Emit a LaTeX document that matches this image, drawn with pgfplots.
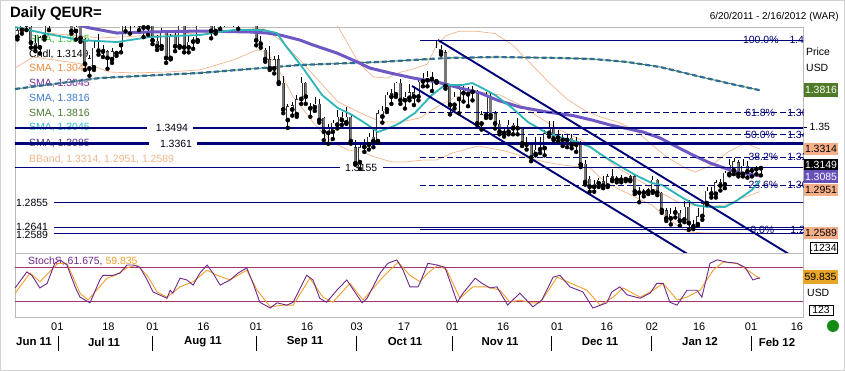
\documentclass[border=0pt]{standalone}
\usepackage{pgfplots}
\pgfplotsset{compat=1.18}
\usepackage{pgfplotstable}
\usepackage{fontspec}
\setmainfont{Liberation Sans}
\newcommand\fs[1]{\fontsize{#1}{#1}\selectfont}
\definecolor{navy}{RGB}{0,0,120}
\definecolor{candlegray}{RGB}{120,120,120}
\definecolor{smacyan}{RGB}{45,180,185}
\definecolor{smapurple}{RGB}{112,88,196}
\definecolor{smablue}{RGB}{45,110,150}
\definecolor{smagreen}{RGB}{60,110,60}
\definecolor{bband}{RGB}{242,182,140}
\definecolor{stk}{RGB}{110,40,140}
\definecolor{std}{RGB}{240,160,40}
\definecolor{stlev}{RGB}{160,50,120}
\definecolor{lgreen}{RGB}{50,200,60}
\definecolor{lorange}{RGB}{232,138,60}
\definecolor{lpurple}{RGB}{122,42,154}
\definecolor{lblue}{RGB}{58,122,200}
\definecolor{lolive}{RGB}{74,122,48}
\definecolor{lcyan}{RGB}{48,184,216}
\definecolor{lviolet}{RGB}{80,56,128}
\definecolor{boxgreen}{RGB}{79,122,40}
\definecolor{boxpeach}{RGB}{245,176,138}
\definecolor{boxpurple}{RGB}{102,80,184}
\definecolor{boxorange}{RGB}{232,166,40}
\definecolor{dotgreen}{RGB}{20,140,20}

\pgfplotstableread{
i O H L C
0 1.4270 1.4350 1.4250 1.4330
1 1.4330 1.4440 1.4300 1.4390
2 1.4390 1.4450 1.4330 1.4360
3 1.4360 1.4380 1.4180 1.4220
4 1.4220 1.4290 1.4150 1.4180
5 1.4180 1.4280 1.4130 1.4270
6 1.4270 1.4390 1.4250 1.4370
7 1.4370 1.4440 1.4330 1.4430
8 1.4430 1.4510 1.4400 1.4500
9 1.4500 1.4530 1.4440 1.4520
10 1.4520 1.4580 1.4500 1.4530
11 1.4530 1.4540 1.4380 1.4390
12 1.4390 1.4420 1.4300 1.4320
13 1.4320 1.4380 1.4250 1.4360
14 1.4360 1.4370 1.4230 1.4260
15 1.4250 1.4260 1.3990 1.4040
16 1.4000 1.4120 1.3940 1.4090
17 1.4010 1.4240 1.3990 1.4180
18 1.4180 1.4300 1.4120 1.4150
19 1.4145 1.4200 1.4100 1.4165
20 1.4150 1.4160 1.4000 1.4090
21 1.4080 1.4180 1.4050 1.4150
22 1.4130 1.4240 1.4110 1.4220
23 1.4200 1.4450 1.4140 1.4410
24 1.4410 1.4440 1.4320 1.4380
25 1.4380 1.4420 1.4300 1.4370
26 1.4370 1.4540 1.4360 1.4500
27 1.4500 1.4530 1.4330 1.4360
28 1.4360 1.4400 1.4270 1.4350
29 1.4350 1.4430 1.4290 1.4390
30 1.4390 1.4450 1.4210 1.4240
31 1.4240 1.4290 1.4160 1.4190
32 1.4190 1.4350 1.4170 1.4310
33 1.4310 1.4330 1.4050 1.4090
34 1.4090 1.4300 1.4080 1.4280
35 1.4280 1.4330 1.4150 1.4190
36 1.4190 1.4400 1.4180 1.4390
37 1.4390 1.4420 1.4140 1.4180
38 1.4180 1.4290 1.4140 1.4230
39 1.4230 1.4270 1.4170 1.4240
40 1.4240 1.4440 1.4230 1.4420
41 1.4420 1.4460 1.4370 1.4400
42 1.4400 1.4480 1.4380 1.4450
43 1.4450 1.4460 1.4260 1.4320
44 1.4320 1.4430 1.4300 1.4390
45 1.4390 1.4440 1.4340 1.4370
46 1.4370 1.4470 1.4360 1.4440
47 1.4440 1.4470 1.4370 1.4400
48 1.4400 1.4460 1.4360 1.4405
49 1.4400 1.4500 1.4340 1.4490
50 1.4490 1.4540 1.4460 1.4500
51 1.4500 1.4520 1.4380 1.4440
52 1.4440 1.4490 1.4370 1.4380
53 1.4370 1.4430 1.4200 1.4240
54 1.4240 1.4280 1.4180 1.4210
55 1.4160 1.4180 1.4060 1.4080
56 1.4080 1.4190 1.3990 1.4000
57 1.4000 1.4110 1.3960 1.4080
58 1.4080 1.4120 1.3870 1.3880
59 1.3880 1.3940 1.3620 1.3650
60 1.3560 1.3700 1.3495 1.3680
61 1.3650 1.3720 1.3600 1.3690
62 1.3610 1.3780 1.3590 1.3740
63 1.3740 1.3930 1.3700 1.3880
64 1.3880 1.3890 1.3700 1.3760
65 1.3660 1.3710 1.3590 1.3670
66 1.3670 1.3760 1.3640 1.3700
67 1.3700 1.3740 1.3540 1.3560
68 1.3580 1.3590 1.3390 1.3460
69 1.3450 1.3530 1.3360 1.3490
70 1.3460 1.3560 1.3400 1.3540
71 1.3520 1.3650 1.3490 1.3590
72 1.3590 1.3630 1.3520 1.3560
73 1.3540 1.3670 1.3530 1.3590
74 1.3590 1.3610 1.3360 1.3380
75 1.3330 1.3390 1.3180 1.3190
76 1.3200 1.3350 1.3145 1.3330
77 1.3330 1.3400 1.3290 1.3350
78 1.3350 1.3450 1.3310 1.3420
79 1.3420 1.3480 1.3330 1.3380
80 1.3380 1.3650 1.3370 1.3620
81 1.3590 1.3680 1.3540 1.3640
82 1.3650 1.3800 1.3630 1.3780
83 1.3790 1.3830 1.3700 1.3760
84 1.3780 1.3890 1.3760 1.3880
85 1.3880 1.3910 1.3700 1.3730
86 1.3730 1.3800 1.3660 1.3760
87 1.3750 1.3870 1.3730 1.3800
88 1.3800 1.3840 1.3690 1.3760
89 1.3760 1.3920 1.3730 1.3890
90 1.3890 1.3960 1.3850 1.3920
91 1.3900 1.3980 1.3850 1.3930
92 1.3930 1.3970 1.3810 1.3910
93 1.3890 1.4245 1.3880 1.4180
94 1.4170 1.4200 1.4120 1.4140
95 1.4140 1.4160 1.3830 1.3850
96 1.3860 1.3870 1.3610 1.3690
97 1.3690 1.3800 1.3660 1.3760
98 1.3740 1.3850 1.3620 1.3820
99 1.3790 1.3850 1.3720 1.3810
100 1.3810 1.3840 1.3680 1.3780
101 1.3830 1.3850 1.3730 1.3800
102 1.3790 1.3820 1.3520 1.3530
103 1.3530 1.3640 1.3480 1.3610
104 1.3600 1.3800 1.3580 1.3760
105 1.3760 1.3790 1.3580 1.3600
106 1.3620 1.3640 1.3490 1.3530
107 1.3530 1.3560 1.3440 1.3460
108 1.3450 1.3500 1.3420 1.3470
109 1.3460 1.3560 1.3440 1.3520
110 1.3520 1.3540 1.3440 1.3490
111 1.3490 1.3580 1.3440 1.3510
112 1.3490 1.3500 1.3340 1.3360
113 1.3360 1.3420 1.3310 1.3350
114 1.3350 1.3370 1.3210 1.3240
115 1.3270 1.3420 1.3260 1.3310
116 1.3310 1.3420 1.3280 1.3320
117 1.3320 1.3480 1.3260 1.3450
118 1.3450 1.3550 1.3420 1.3490
119 1.3500 1.3550 1.3390 1.3400
120 1.3410 1.3480 1.3380 1.3420
121 1.3420 1.3440 1.3340 1.3390
122 1.3390 1.3440 1.3330 1.3400
123 1.3410 1.3440 1.3320 1.3350
124 1.3350 1.3420 1.3290 1.3380
125 1.3370 1.3380 1.3160 1.3180
126 1.3190 1.3220 1.3010 1.3030
127 1.3060 1.3080 1.2950 1.2990
128 1.2990 1.3050 1.2950 1.3020
129 1.3020 1.3070 1.2990 1.3050
130 1.3040 1.3080 1.2980 1.3000
131 1.3000 1.3100 1.2990 1.3080
132 1.3080 1.3140 1.3040 1.3050
133 1.3070 1.3080 1.3030 1.3050
134 1.3050 1.3090 1.3030 1.3060
135 1.3060 1.3070 1.3040 1.3055
136 1.3050 1.3090 1.3040 1.3080
137 1.3080 1.3090 1.2930 1.2950
138 1.2950 1.2990 1.2860 1.2940
139 1.2940 1.2970 1.2910 1.2950
140 1.2950 1.2980 1.2930 1.2960
141 1.2950 1.3080 1.2940 1.3050
142 1.3050 1.3060 1.2920 1.2940
143 1.2940 1.2950 1.2770 1.2790
144 1.2790 1.2810 1.2700 1.2720
145 1.2720 1.2810 1.2670 1.2760
146 1.2790 1.2820 1.2730 1.2770
147 1.2770 1.2790 1.2660 1.2700
148 1.2710 1.2870 1.2690 1.2820
149 1.2820 1.2880 1.2624 1.2680
150 1.2650 1.2710 1.2630 1.2670
151 1.2670 1.2810 1.2660 1.2740
152 1.2740 1.2860 1.2710 1.2850
153 1.2850 1.2990 1.2840 1.2960
154 1.2960 1.2990 1.2900 1.2930
155 1.2930 1.3050 1.2900 1.3030
156 1.3030 1.3060 1.2960 1.3000
157 1.3010 1.3130 1.2980 1.3110
158 1.3100 1.3230 1.3090 1.3180
159 1.3130 1.3240 1.3100 1.3210
160 1.3200 1.3220 1.3080 1.3100
161 1.3100 1.3230 1.3080 1.3170
162 1.3170 1.3210 1.3070 1.3120
163 1.3130 1.3150 1.3080 1.3140
164 1.3140 1.3170 1.3100 1.3150
165 1.3155 1.3160 1.3090 1.3149
}\candles

\begin{document}
\begin{tikzpicture}
\path[use as bounding box, fill=white] (0,0) rectangle (845bp,371bp);
\draw[gray!35] (0.5bp,0.5bp) rectangle (844.5bp,370.5bp);

\begin{scope}[x=1bp, y=-1bp, shift={(0,371bp)}]
\node[anchor=west, inner sep=0pt, font=\fs{15}\bfseries] at (10,14) {Daily QEUR=};
\node[anchor=east, inner sep=0pt, font=\fs{10}] at (839,17) {6/20/2011 - 2/16/2012 (WAR)};
% legend texts
\begin{scope}[every node/.style={anchor=west, inner sep=0pt, font=\fs{10.5}}]
\node[text=lgreen] at (29,40) {SMA, 1.3045};
\node[text=black] at (29,54) {Cndl, 1.3149};
\node[text=lorange] at (29,69) {SMA, 1.3046};
\node[text=lpurple] at (29,84) {SMA, 1.3045};
\node[text=lblue] at (29,99) {SMA, 1.3816};
\node[text=lolive] at (29,114) {SMA, 1.3816};
\node[text=lcyan] at (29,128) {SMA, 1.3045};
\node[text=lviolet] at (29,144) {SMA, 1.3085};
\node[text=bband] at (29,159) {BBand, 1.3314, 1.2951, 1.2589};
\node[text=stk] at (28,261) {StochS, 61.675, \textcolor{std}{59.835}};
\end{scope}
\end{scope}

% ---------------- main price panel ----------------
\begin{axis}[
  at={(15bp,118bp)}, anchor=south west,
  width=788bp, height=226bp, scale only axis,
  xmin=-0.53, xmax=174.34, ymin=1.24265, ymax=1.43565,
  axis line style={draw=gray!55},
  xtick=\empty,
  ytick={1.35}, yticklabels={1.35}, ytick pos=right, yticklabel pos=right,
  tick align=outside, major tick length=4bp, ytick style={draw=black},
  yticklabel style={font=\fs{10.5}, xshift=-1bp},
  clip=true,
]
% level labels
\node[anchor=center, inner sep=0pt, font=\fs{10.5}, text=black!85!navy] at (axis cs:34.3,1.3494) {1.3494};
\node[anchor=center, inner sep=0pt, font=\fs{10.5}, text=black!85!navy] at (axis cs:35.2,1.3361) {1.3361};
\node[anchor=center, inner sep=0pt, font=\fs{10.5}, text=black!85!navy] at (axis cs:76.3,1.3155) {1.3155};
\node[anchor=west, inner sep=0pt, font=\fs{10.5}, text=black!85!navy] at (axis cs:-0.35,1.2855) {1.2855};
\node[anchor=west, inner sep=0pt, font=\fs{10.5}, text=black!85!navy] at (axis cs:-0.35,1.2649) {1.2641};
\node[anchor=west, inner sep=0pt, font=\fs{10.5}, text=black!85!navy] at (axis cs:-0.35,1.2581) {1.2589};
% fibonacci labels
\begin{scope}[every node/.style={anchor=west, inner sep=0pt, font=\fs{10.5}, text=navy}]
\node at (axis cs:161.0,1.4245) {100.0\%};
\node at (axis cs:171.3,1.4245) {1.42};
\node at (axis cs:161.5,1.3626) {61.8\%};
\node at (axis cs:170.8,1.3626) {1.36};
\node at (axis cs:161.5,1.3435) {50.0\%};
\node at (axis cs:170.8,1.3435) {1.34};
\node at (axis cs:162.2,1.3243) {38.2\%};
\node at (axis cs:170.8,1.3243) {1.32};
\node at (axis cs:162.2,1.3007) {23.6\%};
\node at (axis cs:170.8,1.3007) {1.30};
\node at (axis cs:162.6,1.2624) {0.0\%};
\node at (axis cs:171.5,1.2624) {1.26};
\end{scope}

% Bollinger bands
\addplot[bband, line width=0.7bp] coordinates {(-0.5,1.47) (20,1.465) (40,1.468) (55,1.465) (62,1.458) (66,1.452) (69,1.444) (71.2,1.4356) (73.4,1.421) (75,1.41) (77,1.40) (79,1.393) (82,1.392) (85,1.397) (88,1.40) (91,1.404) (93,1.42) (95,1.428) (98,1.432) (102,1.432) (106,1.43) (110,1.42) (114,1.404) (118,1.388) (122,1.374) (126,1.364) (130,1.358) (133.3,1.3545) (137.7,1.346) (140.8,1.335) (144.4,1.3238) (148.2,1.3152) (150.4,1.3118) (154.2,1.3178) (157.7,1.329) (161.5,1.3366) (164.8,1.3314)};
\addplot[bband, line width=0.7bp] coordinates {(-0.5,1.4331) (18.3,1.4263) (40.5,1.4305) (54.5,1.4348) (58.3,1.4245) (62.7,1.4075) (67.1,1.3887) (71.2,1.3716) (77.1,1.3605) (80.9,1.3545) (84.9,1.3545) (89.3,1.3579) (93.8,1.369) (98.2,1.3776) (102.7,1.3801) (107.1,1.3776) (111.5,1.369) (116,1.3579) (120.4,1.3477) (126,1.3374) (133.3,1.3152) (140.8,1.2982) (146.6,1.2862) (151.9,1.2819) (157,1.2836) (160.8,1.2896) (164.8,1.2951)};
\addplot[bband, line width=0.7bp] coordinates {(-0.5,1.4006) (3.5,1.41) (16.1,1.4032) (20.5,1.3972) (25.7,1.3964) (33.2,1.3972) (40.5,1.399) (47.9,1.4075) (53.2,1.416) (55.4,1.4143) (58.9,1.393) (61.2,1.3759) (63.2,1.3665) (66.1,1.352) (69.8,1.3374) (73.4,1.3306) (76.5,1.3289) (79.4,1.3246) (83.1,1.3204) (86,1.3204) (90,1.322) (93,1.322) (96.5,1.328) (102.2,1.334) (108,1.33) (113.3,1.3238) (117.1,1.3204) (120.9,1.3178) (127.1,1.3152) (130.4,1.3033) (134.8,1.2947) (140.8,1.2836) (145.3,1.2691) (148.8,1.2606) (153.3,1.2597) (159.3,1.2597) (164.8,1.2589)};

% 200-day SMAs
\addplot[smagreen, line width=0.8bp] coordinates {(-0.53,1.3827) (18.3,1.3921) (40.5,1.3964) (62.7,1.4032) (80.5,1.4058) (95.3,1.4092) (106.4,1.4100) (120.4,1.4092) (127.7,1.4083) (135.3,1.4058) (142.6,1.4015) (149.9,1.3947) (157.5,1.3878) (164.8,1.3816)};
\addplot[smablue, line width=2.2bp, dash pattern=on 5bp off 3bp] coordinates {(-0.53,1.3827) (18.3,1.3921) (40.5,1.3964) (62.7,1.4032) (80.5,1.4058) (95.3,1.4092) (106.4,1.4100) (120.4,1.4092) (127.7,1.4083) (135.3,1.4058) (142.6,1.4015) (149.9,1.3947) (157.5,1.3878) (164.8,1.3816)};

% candles: wicks
\addplot[only marks, mark=none,
  error bars/.cd, y dir=plus, y explicit, error mark=none,
  error bar style={draw=black, line width=0.6bp}]
  table[x=i, y=L, y error plus expr={\thisrow{H}-\thisrow{L}}] {\candles};
% candles: body outlines
\addplot[only marks, mark=none,
  error bars/.cd, y dir=plus, y explicit, error mark=none,
  error bar style={draw=black!80, line width=3.0bp}]
  table[x=i, y expr={min(\thisrow{O},\thisrow{C})}, y error plus expr={max(abs(\thisrow{C}-\thisrow{O}),0.0005)}] {\candles};
% up bodies (hollow)
\addplot[only marks, mark=none, restrict expr to domain={\thisrow{C}-\thisrow{O}}{0:1},
  error bars/.cd, y dir=plus, y explicit, error mark=none,
  error bar style={draw=white, line width=2.1bp}]
  table[x=i, y expr={\thisrow{O}+0.0004}, y error plus expr={max(\thisrow{C}-\thisrow{O}-0.0008,0)}] {\candles};
% down bodies (grey)
\addplot[only marks, mark=none, restrict expr to domain={\thisrow{C}-\thisrow{O}}{-1:-0.00001},
  error bars/.cd, y dir=plus, y explicit, error mark=none,
  error bar style={draw=candlegray, line width=2.1bp}]
  table[x=i, y expr={\thisrow{C}+0.0004}, y error plus expr={max(\thisrow{O}-\thisrow{C}-0.0008,0)}] {\candles};

% 50-day SMA (purple)
\addplot[smapurple, line width=3bp] coordinates {(9.45,1.4416) (16.1,1.4348) (22.1,1.4305) (29.4,1.4314) (40.5,1.4322) (51.6,1.4314) (55.4,1.4305) (58.3,1.4288) (62.7,1.4245) (65.6,1.4203) (70.9,1.4134) (75.4,1.4058) (78.2,1.4006) (82.7,1.3964) (87.8,1.3921) (93.1,1.3887) (98.2,1.3836) (102.7,1.3793) (106.4,1.3733) (111.5,1.3673) (117.5,1.3631) (123.3,1.3600) (127.7,1.3560) (131.5,1.3520) (138.8,1.3460) (142.6,1.3409) (146.4,1.3332) (149.9,1.3263) (153.7,1.3195) (157.5,1.3144) (160.4,1.3110) (164.8,1.3085)};
% 20-day SMA (cyan)
\addplot[smacyan, line width=1.8bp] coordinates {(-0.5,1.4356) (5.7,1.4305) (13.9,1.4245) (22.1,1.4228) (29.4,1.4271) (40.5,1.4288) (47.9,1.4331) (54.5,1.4331) (57.6,1.4305) (59.4,1.4203) (63.2,1.4015) (67.6,1.3776) (71.1,1.3665) (74.3,1.3605) (77.1,1.3537) (80.0,1.3460) (83.1,1.3503) (84.9,1.3537) (88.2,1.3622) (92.0,1.3776) (94.9,1.3861) (98.7,1.3861) (100.9,1.3878) (103.1,1.3836) (106.0,1.3776) (109.8,1.3665) (113.3,1.3545) (117.1,1.3460) (120.9,1.3409) (124.4,1.3374) (127.1,1.3332) (129.7,1.3263) (133.3,1.3178) (137.1,1.3093) (140.8,1.3024) (143.1,1.3007) (146.6,1.2922) (150.4,1.2836) (153.3,1.2819) (157.0,1.2819) (159.2,1.2862) (163.0,1.2965) (164.8,1.3045)};

% horizontal support / resistance lines
\addplot[navy, line width=2.3bp] coordinates {(-1,1.3494) (28.8,1.3494)};
\addplot[navy, line width=2.3bp] coordinates {(39.0,1.3494) (176,1.3494)};
\addplot[navy, line width=2.3bp] coordinates {(-1,1.3361) (29.3,1.3361)};
\addplot[navy, line width=2.3bp] coordinates {(39.8,1.3361) (176,1.3361)};
\addplot[navy, line width=1bp] coordinates {(-1,1.3155) (71.6,1.3155)};
\addplot[navy, line width=1bp] coordinates {(81.1,1.3155) (176,1.3155)};
\addplot[navy, line width=1bp] coordinates {(8.1,1.2855) (176,1.2855)};
\addplot[navy, line width=1bp] coordinates {(8.1,1.2641) (176,1.2641)};
\addplot[navy, line width=1bp] coordinates {(8.1,1.2589) (176,1.2589)};
% fibonacci retracement
\addplot[navy, line width=0.9bp] coordinates {(89.35,1.4245) (176,1.4245)};
\addplot[navy, line width=0.9bp, dash pattern=on 6bp off 3bp] coordinates {(89.35,1.3626) (176,1.3626)};
\addplot[navy, line width=0.9bp, dash pattern=on 6bp off 3bp] coordinates {(89.35,1.3435) (176,1.3435)};
\addplot[navy, line width=0.9bp, dash pattern=on 6bp off 3bp] coordinates {(89.35,1.3243) (176,1.3243)};
\addplot[navy, line width=0.9bp, dash pattern=on 6bp off 3bp] coordinates {(89.35,1.3007) (176,1.3007)};
\addplot[navy, line width=0.9bp] coordinates {(89.35,1.2624) (176,1.2624)};
% descending channel
\addplot[navy, line width=1.9bp] coordinates {(93.34,1.4245) (172,1.2399)};
\addplot[navy, line width=1.9bp] coordinates {(87.57,1.38527) (172,1.1871)};
\end{axis}

% ---------------- stochastics panel ----------------
\begin{axis}[
  at={(15bp,54bp)}, anchor=south west,
  width=788bp, height=64bp, scale only axis,
  xmin=-0.53, xmax=174.34, ymin=-6.7, ymax=105,
  axis line style={draw=gray!55},
  ytick=\empty,
  xtick={8.86,20.2,30.0,41.3,52.95,64.3,75.3,85.8,96.5,107.8,119.8,130.8,140.8,151.3,162.8,173.0},
  xticklabels={01,18,01,16,01,16,03,17,01,16,01,16,02,16,01,16},
  xtick style={draw=none},
  xticklabel style={font=\fs{11}, anchor=north, yshift=-2bp},
  clip=true,
]
\addplot[stlev, line width=0.9bp] coordinates {(-1,80) (176,80)};
\addplot[stlev, line width=0.9bp] coordinates {(-1,20) (176,20)};
\addplot[std, line width=0.9bp] coordinates {(-0.5,35) (2.8,70) (5.0,55) (9.0,87) (11.0,87) (13.9,35) (15.7,23) (19.9,61) (21.7,66) (24.3,79) (26.5,84) (28.8,66) (31.0,37) (33.2,28) (36.1,46) (39.0,55) (42.1,75) (44.3,66) (47.2,58) (50.9,75) (53.2,40) (56.1,11) (59.0,14) (61.2,14) (64.9,61) (67.8,28) (70.0,19) (73.8,52) (76.7,23) (81.1,63) (84.5,89) (87.1,66) (89.3,55) (91.1,70) (93.3,84) (95.3,75) (98.2,26) (101.1,46) (104.2,46) (107.1,40) (109.3,19) (111.5,23) (113.8,18) (116.0,18) (119.8,63) (122.0,55) (126.4,40) (129.3,14) (132.2,28) (134.4,44) (138.2,28) (141.1,40) (143.3,52) (146.4,23) (148.6,28) (151.5,40) (154.4,75) (156.6,89) (159.7,87) (162.6,72) (164.8,59.8)};
\addplot[stk, line width=0.9bp] coordinates {(-0.5,44) (2.1,72) (3.2,66) (5.0,44) (6.6,52) (8.3,87) (9.5,93) (11.0,84) (12.8,46) (13.9,28) (16.1,18) (18.3,58) (19.0,66) (21.2,66) (22.8,70) (24.3,84) (25.7,84) (27.2,80) (28.8,58) (30.1,37) (33.2,26) (33.9,40) (34.5,35) (36.1,61) (37.6,58) (39.0,49) (40.5,70) (42.1,84) (43.4,70) (45.0,49) (47.2,58) (49.0,70) (50.9,79) (52.3,52) (53.8,19) (56.1,9) (57.6,18) (59.8,14) (61.2,19) (64.2,66) (65.6,58) (67.1,26) (68.6,19) (70.9,40) (73.1,58) (76.5,18) (77.6,26) (80.5,70) (82.2,87) (84.2,93) (85.6,75) (87.1,46) (88.9,46) (89.3,52) (91.1,87) (93.1,84) (94.9,80) (97.6,19) (98.9,35) (101.6,61) (103.1,52) (104.9,44) (106.4,46) (108.8,14) (111.5,35) (114.4,11) (116.4,23) (118.9,63) (120.4,66) (122.6,46) (125.5,37) (127.7,9) (130.8,18) (131.9,37) (133.7,46) (135.3,32) (138.2,26) (140.4,35) (141.9,52) (143.3,52) (144.8,19) (146.4,14) (148.6,40) (150.8,40) (151.9,28) (153.7,87) (155.3,93) (157.5,89) (159.7,87) (161.5,80) (163.2,58) (164.8,61.7)};
\end{axis}

% ---------------- right-hand labels, month row ----------------
\begin{scope}[x=1bp, y=-1bp, shift={(0,371bp)}]
\node[anchor=west, inner sep=0pt, font=\fs{10.5}] at (806,52) {Price};
\node[anchor=west, inner sep=0pt, font=\fs{10.5}] at (806,68) {USD};
\fill[boxgreen] (804,83) rectangle (838,97);
\node[text=white, inner sep=0pt, font=\fs{10.5}] at (821,90) {1.3816};
\fill[boxpeach] (804,143) rectangle (838,155);
\node[inner sep=0pt, font=\fs{10.5}] at (821,149) {1.3314};
\fill[black] (804,159) rectangle (838,170);
\node[text=white, inner sep=0pt, font=\fs{10.5}] at (821,165) {1.3149};
\fill[boxpurple] (804,170) rectangle (838,183);
\node[text=white, inner sep=0pt, font=\fs{10.5}] at (821,176.5) {1.3085};
\fill[boxpeach] (804,184) rectangle (838,196);
\node[inner sep=0pt, font=\fs{10.5}] at (821,190) {1.2951};
\fill[boxpeach] (804,227) rectangle (838,239);
\node[inner sep=0pt, font=\fs{10.5}] at (821,233) {1.2589};
\draw[black, fill=white, line width=0.6bp] (810,242) rectangle (837,253);
\node[inner sep=0pt, font=\fs{10.5}] at (823.5,247.5) {.1234};
\fill[boxorange] (803,270) rectangle (838,284);
\node[inner sep=0pt, font=\fs{10.5}] at (820.5,277) {59.835};
\node[anchor=west, inner sep=0pt, font=\fs{10.5}] at (807,293) {USD};
\draw[black, fill=white, line width=0.6bp] (809,305) rectangle (833,315);
\node[inner sep=0pt, font=\fs{10.5}] at (821,310) {123};
\fill[dotgreen] (833,326) circle (6);
% month labels
\begin{scope}[every node/.style={inner sep=0pt, font=\fs{11.5}\bfseries}]
\node at (34,342) {Jun 11};
\node at (104,342) {Jul 11};
\node at (203,342) {Aug 11};
\node at (305,342) {Sep 11};
\node at (405,342) {Oct 11};
\node at (500,342) {Nov 11};
\node at (600,342) {Dec 11};
\node at (700,342) {Jan 12};
\node at (777,342) {Feb 12};
\end{scope}
\foreach \sx in {58,152.7,256,356.7,452.3,551.7,651.3,751.7} {
  \draw[black, line width=1bp] (\sx,336) -- (\sx,351);
}
\end{scope}
\end{tikzpicture}
\end{document}
